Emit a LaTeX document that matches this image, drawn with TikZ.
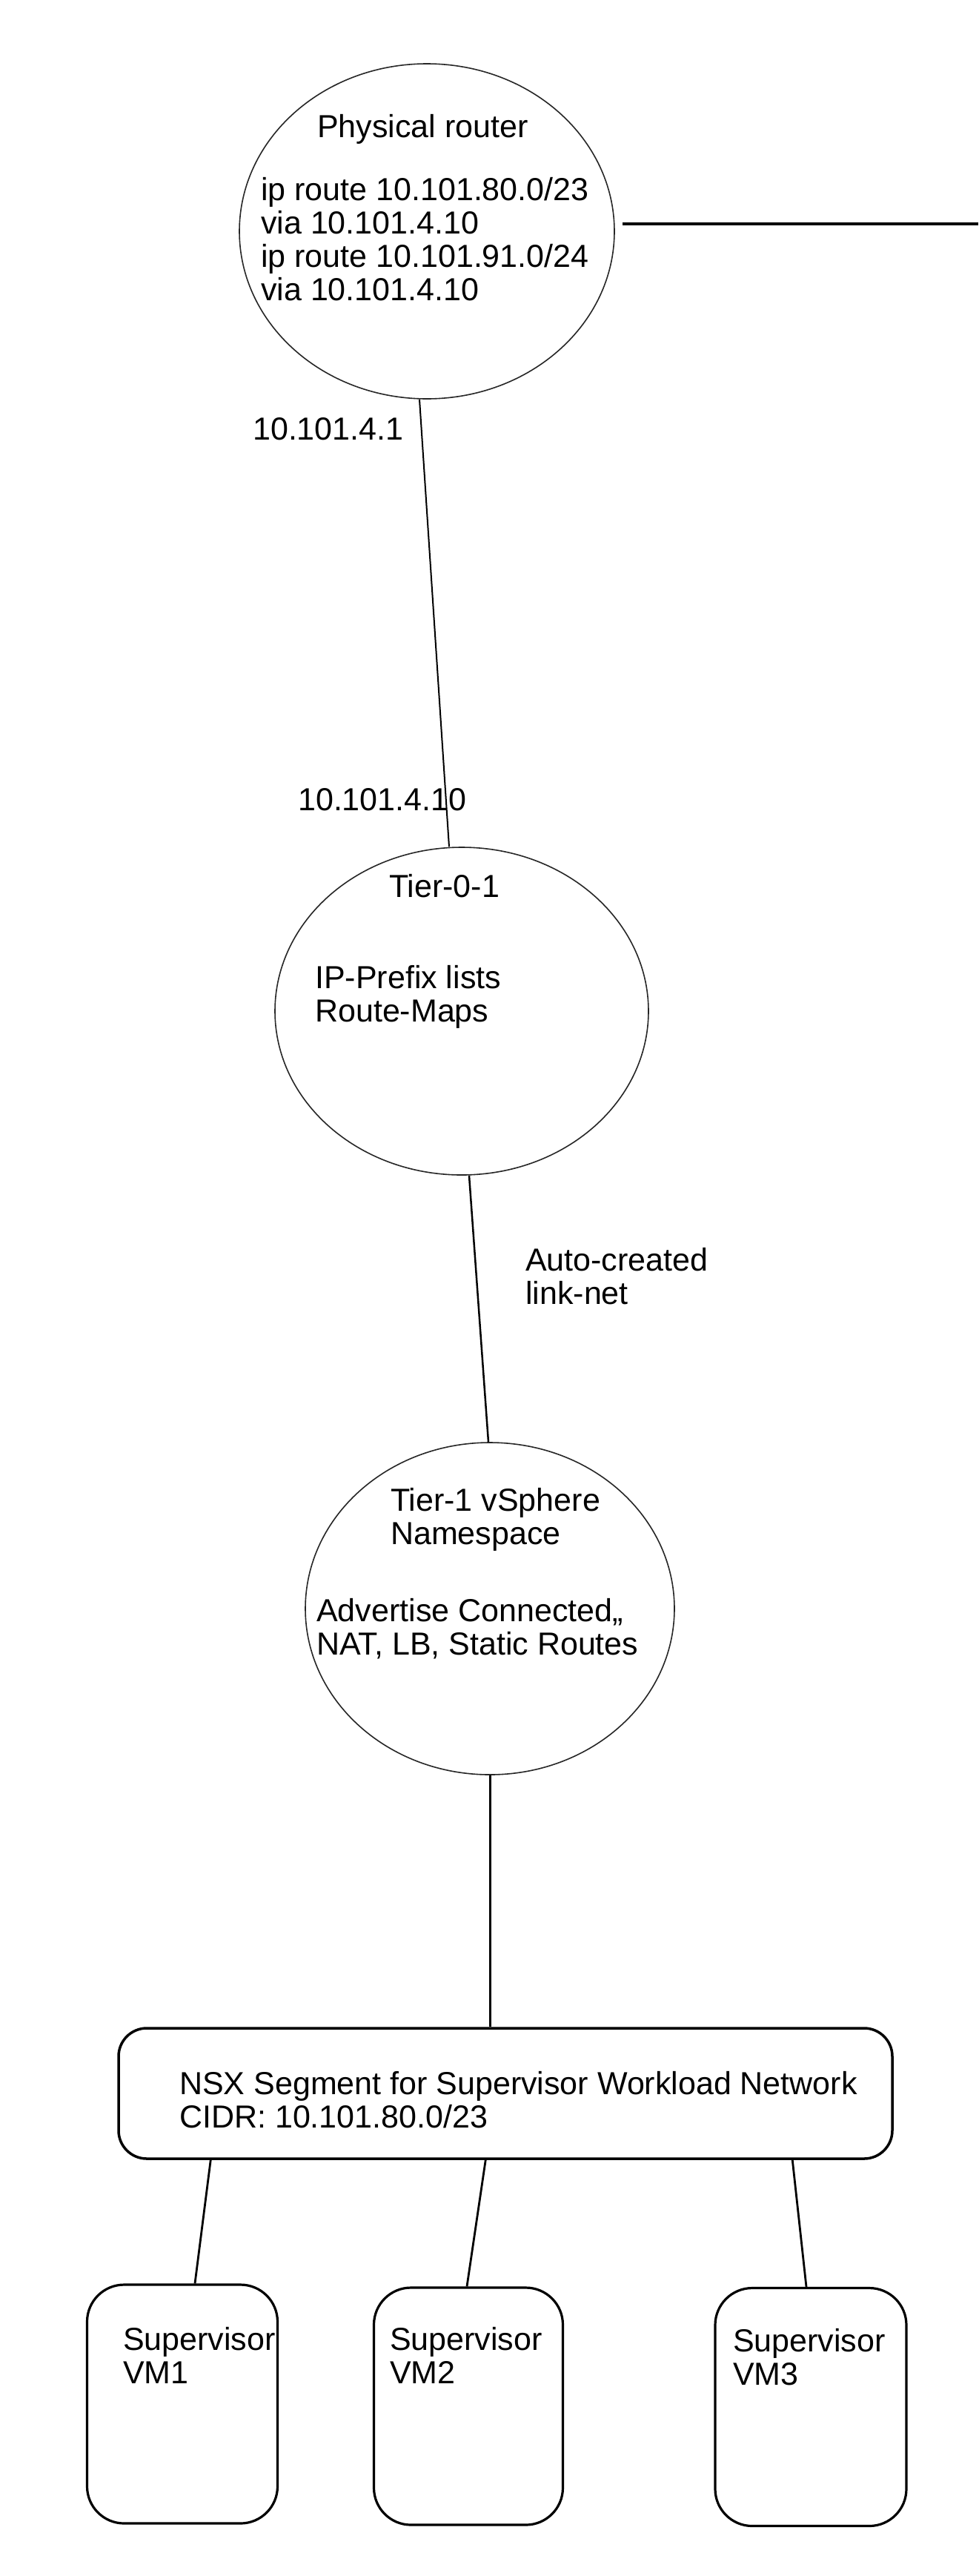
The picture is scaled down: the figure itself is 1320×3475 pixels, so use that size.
\documentclass[tikz,border=0pt]{standalone}
\usepackage{fontspec}
\setmainfont{Liberation Sans}
\usetikzlibrary{shapes.geometric}

\begin{document}
\begin{tikzpicture}
  [x=1pt,y=-1pt,font=\fontsize{43}{45}\selectfont,
   every node/.style={inner sep=0pt},
   ring/.style={ellipse,draw=black!85,line width=1.6pt},
   segbox/.style={rectangle,draw,rounded corners=38pt,line width=3.5pt},
   vmbox/.style={rectangle,draw,rounded corners=50pt,line width=3.2pt},
   txt/.style={anchor=base west,align=left}]

  \useasboundingbox (0,0) rectangle (1320,3475);

  % routers and segments
  \node[ring,minimum width=506pt,minimum height=452pt] (router) at (576,312) {};
  \node[ring,minimum width=504pt,minimum height=442pt] (tier0) at (623,1364) {};
  \node[ring,minimum width=498pt,minimum height=448pt] (tier1) at (661,2170) {};
  \node[segbox,minimum width=1044pt,minimum height=176pt] (nsx) at (682,2824) {};
  \node[vmbox,minimum width=257pt,minimum height=322pt] (vm1) at (246,3243) {};
  \node[vmbox,minimum width=255pt,minimum height=320pt] (vm2) at (632,3246) {};
  \node[vmbox,minimum width=258pt,minimum height=321pt] (vm3) at (1094,3247) {};

  % texts (base = last line)
  \node[txt] (routername) at (428,185) {Physical router};
  \node[txt] (routes) at (352,405) {ip route 10.101.80.0/23\\via 10.101.4.10\\ip route 10.101.91.0/24\\via 10.101.4.10};
  \node[txt] (ipup) at (341,593) {10.101.4.1};
  \node[txt] (ipdown) at (402,1093) {10.101.4.10};
  \node[txt] (tier0name) at (525,1210) {Tier-0-1};
  \node[txt] (tier0conf) at (425,1378) {IP-Prefix lists\\Route-Maps};
  \node[txt] (linknet) at (709,1759) {Auto-created\\link-net};
  \node[txt] (tier1name) at (527,2083) {Tier-1 vSphere\\Namespace};
  \node[txt] (tier1conf) at (427,2232) {Advertise Connected,,\\NAT, LB, Static Routes};
  \node[txt] (nsxname) at (242,2870) {NSX Segment for Supervisor Workload Network\\CIDR: 10.101.80.0/23};
  \node[txt] (vm1name) at (166,3215) {Supervisor\\VM1};
  \node[txt] (vm2name) at (526,3215) {Supervisor\\VM2};
  \node[txt] (vm3name) at (989,3217) {Supervisor\\VM3};

  % links
  \coordinate (wan) at (1320,302);
  \draw[line width=4pt] ([xshift=10pt]router.east |- wan) -- (wan);
  \draw[line width=2pt] ([xshift=-10pt]router.south) -- ([xshift=-17pt]tier0.north);
  \draw[line width=2.5pt] ([xshift=10pt]tier0.south) -- ([xshift=-2pt]tier1.north);
  \draw[line width=3pt] (tier1.south) -- (tier1.south |- nsx.north);

\foreach \vm/\from/\to in {vm1/126/17,vm2/497/-2,vm3/911/-6}
    \draw[line width=2.8pt] ([xshift=\from pt]nsx.south west) -- ([xshift=\to pt]\vm.north);

\end{tikzpicture}
\end{document}
